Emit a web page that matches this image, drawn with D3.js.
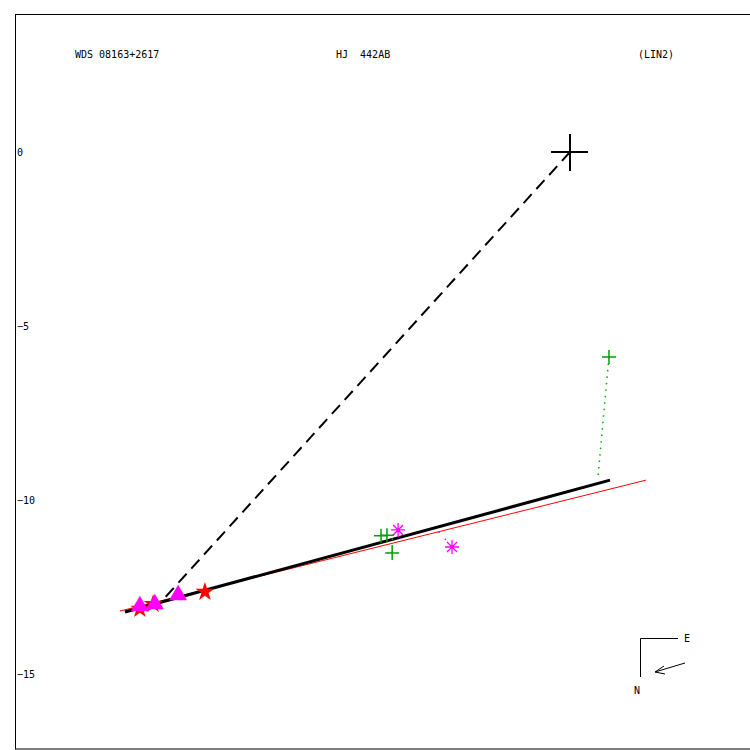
<!DOCTYPE html>
<html>
<head>
<meta charset="utf-8">
<script src="https://cdn.jsdelivr.net/npm/d3@7"></script>
<style>
body { margin: 0; background: #fff; }
text { font-family: "DejaVu Sans Mono", monospace; font-size: 10px; fill: #000; }
</style>
</head>
<body>
<div id="chart"></div>
<script>
// header labels
var titles = ["WDS 08163+2617", "HJ  442AB", "(LIN2)"];
var yTicks = [0, -5, -10, -15];

// primary and lines (arcsec offsets)
var primary = [0, 0];
var dashedLine = [[0, 0], [-11.70, -12.87]];
var orbitLine = [[-12.79, -13.22], [1.15, -9.43]];
var redLine = [[-12.93, -13.19], [2.18, -9.43]];

// observations
var greenPlus = [[1.12, -5.89], [-5.43, -11.03], [-5.26, -11.01], [-5.11, -11.52]];
var greenResid = [[[1.12, -5.89], [0.80, -9.37]], [[-5.11, -11.52], [-5.11, -11.05]]];
var magentaAst = [[-4.94, -10.86], [-3.39, -11.35]];
var magentaResid = [[[-3.39, -11.35], [-3.87, -10.80]]];
var triangles = [[-12.36, -13.05], [-11.93, -12.99], [-11.26, -12.73]];
var redStars = [[-12.36, -13.13], [-11.98, -12.99], [-10.49, -12.64]];

var width = 750, height = 750;
var svg = d3.select("#chart").append("svg").attr("width", width).attr("height", height);

var x = d3.scaleLinear().domain([-15.948, 5.172]).range([15, 750]);
var y = d3.scaleLinear().domain([3.966, -17.155]).range([14, 749]);

var line = d3.line().x(function(d) { return x(d[0]); }).y(function(d) { return y(d[1]); });

// frame
svg.append("rect").attr("x", 15.5).attr("y", 14.5).attr("width", 740).attr("height", 734.5)
    .attr("fill", "none").attr("stroke", "#000").attr("stroke-width", 1);

// header
var tx = [75, 336, 638];
svg.selectAll("text.title").data(titles).enter().append("text")
    .attr("class", "title")
    .attr("x", function(d, i) { return tx[i]; })
    .attr("y", 58)
    .attr("xml:space", "preserve")
    .style("white-space", "pre")
    .text(function(d) { return d; });

// y axis labels
var yAxis = d3.axisRight(y).tickValues(yTicks).tickSize(0).tickPadding(2)
    .tickFormat(function(d) { return d == 0 ? "0" : "\u2212" + Math.abs(d); });
var ga = svg.append("g").attr("transform", "translate(15,0)").call(yAxis);
ga.select(".domain").remove();
ga.selectAll("text").attr("fill", "#000").style("font-family", "DejaVu Sans Mono, monospace").style("font-size", "10px");

// lines
svg.append("path").attr("d", line(redLine)).attr("stroke", "#ff0000").attr("stroke-width", 1).attr("fill", "none");
svg.append("path").attr("d", line(dashedLine)).attr("stroke", "#000").attr("stroke-width", 2)
    .attr("stroke-dasharray", "12,7").attr("fill", "none");
svg.append("path").attr("d", line(orbitLine)).attr("stroke", "#000").attr("stroke-width", 3).attr("fill", "none");

// residuals
svg.selectAll("path.gres").data(greenResid).enter().append("path").attr("class", "gres")
    .attr("d", line).attr("stroke", "#00b000").attr("stroke-width", 1.5)
    .attr("stroke-dasharray", "1.5,5").attr("fill", "none");
svg.selectAll("path.mres").data(magentaResid).enter().append("path").attr("class", "mres")
    .attr("d", line).attr("stroke", "#ff00ff").attr("stroke-width", 1.5)
    .attr("stroke-dasharray", "1.5,8").attr("fill", "none");

// primary cross
var pc = svg.append("g").attr("transform", "translate(" + x(primary[0]) + "," + y(primary[1]) + ")");
pc.append("line").attr("x1", -19).attr("x2", 18).attr("y1", 0).attr("y2", 0).attr("stroke", "#000").attr("stroke-width", 2);
pc.append("line").attr("x1", 0).attr("x2", 0).attr("y1", -18).attr("y2", 19).attr("stroke", "#000").attr("stroke-width", 2);

// green pluses
svg.selectAll("path.gp").data(greenPlus).enter().append("path").attr("class", "gp")
    .attr("transform", function(d) { return "translate(" + x(d[0]) + "," + y(d[1]) + ")"; })
    .attr("d", "M-7,0H7M0,-7V7").attr("stroke", "#00a000").attr("stroke-width", 1.5).attr("fill", "none");

// magenta asterisks
svg.selectAll("path.ma").data(magentaAst).enter().append("path").attr("class", "ma")
    .attr("transform", function(d) { return "translate(" + x(d[0]) + "," + y(d[1]) + ")"; })
    .attr("d", "M-7,0H7M0,-7V7M-5,-5L5,5M-5,5L5,-5").attr("stroke", "#ff00ff").attr("stroke-width", 1.3).attr("fill", "none");

// red stars
svg.selectAll("path.star").data(redStars).enter().append("path").attr("class", "star")
    .attr("transform", function(d) { return "translate(" + x(d[0]) + "," + y(d[1]) + ")"; })
    .attr("d", d3.symbol().type(d3.symbolStar).size(110))
    .attr("fill", "#ff0000");

// triangles (drawn over the stars)
svg.selectAll("path.tri").data(triangles).enter().append("path").attr("class", "tri")
    .attr("transform", function(d) { return "translate(" + x(d[0]) + "," + y(d[1]) + ")"; })
    .attr("d", d3.symbol().type(d3.symbolTriangle).size(140))
    .attr("fill", "#ff00ff");

// compass
var cg = svg.append("g");
cg.append("path").attr("d", "M640.5,677V638.5H678").attr("stroke", "#000").attr("fill", "none");
cg.append("text").attr("x", 684).attr("y", 642).text("E");
cg.append("text").attr("x", 634).attr("y", 694).text("N");
cg.append("path").attr("d", "M685,663L655,672M655,672L664,666M655,672L665,674").attr("stroke", "#000").attr("fill", "none");
</script>
</body>
</html>
